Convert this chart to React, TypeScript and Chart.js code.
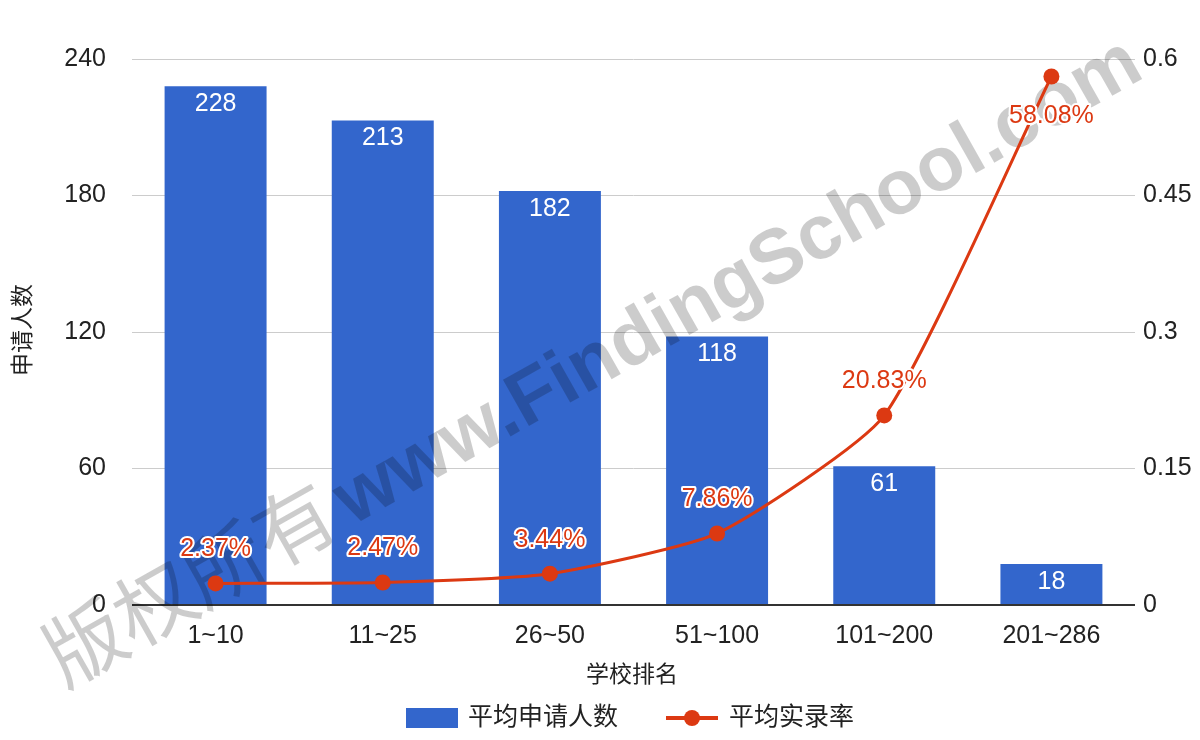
import React, { useEffect, useRef } from "react";
import { Chart, registerables } from "chart.js";

Chart.register(...registerables);

const categories = ["1~10", "11~25", "26~50", "51~100", "101~200", "201~286"];
const applicants = [228, 213, 182, 118, 61, 18];
const admitRate = [0.0237, 0.0247, 0.0344, 0.0786, 0.2083, 0.5808];
const admitRateLabels = ["2.37%", "2.47%", "3.44%", "7.86%", "20.83%", "58.08%"];
const leftTicks = [0, 60, 120, 180, 240];
const rightTickLabels = ["0", "0.15", "0.3", "0.45", "0.6"];
const rightTicks = [0, 0.15, 0.3, 0.45, 0.6];

const BLUE = "#3366cc";
const RED = "#dc3912";
const TEXT = "#222222";
const FONT = '"Liberation Sans", Arial, "Noto Sans CJK SC", sans-serif';

const overlayPlugin = {
  id: "overlay",
  afterDatasetDraw(chart: any, args: any) {
    if (args.index !== 0) return;
    const ctx = chart.ctx;
    // watermark
    ctx.save();
    ctx.translate(352, 526);
    ctx.rotate((-29.5 * Math.PI) / 180);
    ctx.fillStyle = "rgba(0,0,0,0.2)";
    ctx.font = `bold 77px ${FONT}`;
    ctx.textBaseline = "alphabetic";
    ctx.textAlign = "left";
    ctx.fillText("www.FindingSchool.com", 0, 0);
    ctx.textAlign = "right";
    ctx.font = `80px "Noto Sans CJK SC", sans-serif`;
    ctx.fillText("版权所有", -10, 0);
    ctx.restore();
  },
  afterDatasetsDraw(chart: any) {
    const ctx = chart.ctx;
    ctx.save();
    // bar labels
    const barMeta = chart.getDatasetMeta(0);
    ctx.font = `25px ${FONT}`;
    ctx.textAlign = "center";
    ctx.textBaseline = "middle";
    ctx.fillStyle = "#ffffff";
    barMeta.data.forEach((el: any, i: number) => {
      ctx.fillText(String(applicants[i]), el.x, el.y + 18);
    });
    // line labels
    const lineMeta = chart.getDatasetMeta(1);
    lineMeta.data.forEach((el: any, i: number) => {
      const below = el.y - 34 < chart.chartArea.top + 10;
      const y = below ? el.y + 40 : el.y - 34;
      ctx.lineJoin = "round";
      ctx.lineWidth = 4;
      ctx.strokeStyle = "#ffffff";
      ctx.strokeText(admitRateLabels[i], el.x, y);
      ctx.fillStyle = RED;
      ctx.fillText(admitRateLabels[i], el.x, y);
    });
    ctx.restore();
  },
  afterDraw(chart: any) {
    const ctx = chart.ctx;
    ctx.save();
    ctx.fillStyle = TEXT;
    ctx.textBaseline = "middle";
    // x title
    ctx.font = `23px ${FONT}`;
    ctx.textAlign = "center";
    ctx.fillText("学校排名", 632, 676);
    // y title
    ctx.save();
    ctx.translate(24, 330);
    ctx.rotate(-Math.PI / 2);
    ctx.fillText("申请人数", 0, 0);
    ctx.restore();
    // legend
    ctx.font = `25px ${FONT}`;
    ctx.textAlign = "left";
    ctx.fillStyle = BLUE;
    ctx.fillRect(406, 708, 52, 20);
    ctx.fillStyle = TEXT;
    ctx.fillText("平均申请人数", 468, 718);
    ctx.strokeStyle = RED;
    ctx.lineWidth = 4;
    ctx.beginPath();
    ctx.moveTo(666, 718);
    ctx.lineTo(718, 718);
    ctx.stroke();
    ctx.fillStyle = RED;
    ctx.beginPath();
    ctx.arc(692, 718, 8, 0, Math.PI * 2);
    ctx.fill();
    ctx.fillStyle = TEXT;
    ctx.fillText("平均实录率", 729, 718);
    ctx.restore();
  },
};

export default function App() {
  const ref = useRef<HTMLCanvasElement | null>(null);
  useEffect(() => {
    document.body.style.margin = "0";
    if (!ref.current) return;
    const chart = new Chart(ref.current, {
      type: "bar",
      data: {
        labels: categories,
        datasets: [
          {
            type: "bar",
            label: "平均申请人数",
            data: applicants,
            backgroundColor: BLUE,
            yAxisID: "y",
            barPercentage: 0.61,
            categoryPercentage: 1,
            order: 2,
          },
          {
            type: "line",
            label: "平均实录率",
            data: admitRate,
            borderColor: RED,
            backgroundColor: RED,
            borderWidth: 3,
            pointRadius: 8,
            pointHoverRadius: 8,
            pointBackgroundColor: RED,
            pointBorderWidth: 0,
            tension: 0.18,
            yAxisID: "y1",
            order: 1,
          } as any,
        ],
      },
      options: {
        animation: false,
        responsive: true,
        maintainAspectRatio: false,
        layout: { padding: { top: 59, left: 0, right: 0, bottom: 0 } },
        plugins: {
          legend: { display: false },
          tooltip: { enabled: false },
        },
        scales: {
          x: {
            grid: { display: false, drawTicks: false },
            border: { display: false },
            ticks: {
              color: TEXT,
              font: { size: 25, family: FONT },
              padding: 16,
            },
            afterFit: (scale: any) => {
              scale.height = 135;
            },
          },
          y: {
            position: "left",
            min: 0,
            max: 240,
            afterBuildTicks: (scale: any) => {
              scale.ticks = leftTicks.map((v) => ({ value: v }));
            },
            grid: {
              drawTicks: false,
              color: (c: any) => (c.tick && c.tick.value === 0 ? "#333333" : "#cccccc"),
              lineWidth: (c: any) => (c.tick && c.tick.value === 0 ? 2 : 1),
            },
            border: { display: false },
            ticks: {
              color: TEXT,
              font: { size: 25, family: FONT },
              padding: 26,
            },
            afterFit: (scale: any) => {
              scale.width = 132;
            },
          },
          y1: {
            position: "right",
            min: 0,
            max: 0.6,
            afterBuildTicks: (scale: any) => {
              scale.ticks = rightTicks.map((v) => ({ value: v }));
            },
            grid: { display: false, drawTicks: false },
            border: { display: false },
            ticks: {
              color: TEXT,
              font: { size: 25, family: FONT },
              padding: 8,
              callback: (_v: any, i: number) => rightTickLabels[i],
            },
            afterFit: (scale: any) => {
              scale.width = 65;
            },
          },
        },
      },
      plugins: [overlayPlugin],
    });
    return () => chart.destroy();
  }, []);
  return (
    <div style={{ width: 1200, height: 740, position: "relative" }}>
      <canvas ref={ref} />
    </div>
  );
}
